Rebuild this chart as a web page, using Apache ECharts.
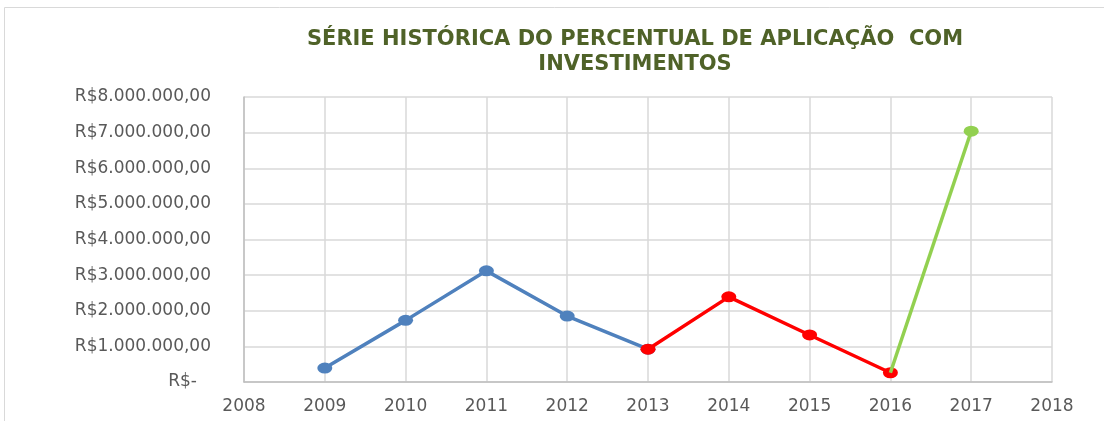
<!DOCTYPE html>
<html>
<head>
<meta charset="utf-8">
<script src="https://cdn.jsdelivr.net/npm/echarts@6/dist/echarts.min.js"></script>
<style>
  html, body { margin: 0; padding: 0; background: #fff; }
  #chart { width: 1104px; height: 421px; }
</style>
</head>
<body>
<div id="chart"></div>
<script>
// anos e valores
const years = [2009, 2010, 2011, 2012, 2013, 2014, 2015, 2016, 2017];
const values = [390000, 1730000, 3120000, 1850000, 920000, 2390000, 1320000, 260000, 7040000];
// trechos coloridos: [inicio, fim] por índice
const segments = [
    { name: 'azul', from: 0, to: 4, color: '#4F81BD' },
    { name: 'vermelho', from: 4, to: 7, color: '#FF0000' },
    { name: 'verde', from: 7, to: 8, color: '#92D050' }
];
const yTicks = [0, 1000000, 2000000, 3000000, 4000000, 5000000, 6000000, 7000000, 8000000];

function pairs(from, to) {
    const out = [];
    for (let i = from; i <= to; i++) out.push([years[i], values[i]]);
    return out;
}

function moeda(v) {
    if (v === 0) return '{z|R$-}';
    const s = String(Math.round(v)).replace(/\B(?=(\d{3})+(?!\d))/g, '.');
    return 'R$' + s + ',00';
}

const myChart = echarts.init(document.getElementById('chart'));

const option = {
    animation: false,
    textStyle: { fontFamily: 'DejaVu Sans' },
    title: {
        text: 'SÉRIE HISTÓRICA DO PERCENTUAL DE APLICAÇÃO  COM\nINVESTIMENTOS',
        left: 630,
        textAlign: 'center',
        top: 22,
        textStyle: {
            color: '#4F6228',
            fontSize: 21,
            fontWeight: 'bold',
            lineHeight: 25,
            fontFamily: 'DejaVu Sans'
        }
    },
    graphic: [{
        type: 'rect',
        shape: { x: 4.5, y: 7.5, width: 1120, height: 440 },
        style: { fill: 'none', stroke: '#D9D9D9', lineWidth: 1 },
        silent: true
    }],
    grid: {
        left: 244,
        right: 52,
        top: 97,
        bottom: 39
    },
    xAxis: {
        type: 'value',
        min: 2008,
        max: 2018,
        interval: 1,
        axisLine: { show: true, lineStyle: { color: '#BFBFBF', width: 1.5 } },
        axisTick: { show: false },
        axisLabel: {
            color: '#595959',
            fontSize: 17,
            margin: 16,
            formatter: v => String(v)
        },
        splitLine: { show: true, lineStyle: { color: '#D9D9D9', width: 1.5 } }
    },
    yAxis: {
        type: 'value',
        min: yTicks[0],
        max: yTicks[yTicks.length - 1],
        interval: 1000000,
        axisLine: { show: true, lineStyle: { color: '#BFBFBF', width: 1.5 } },
        axisTick: { show: false },
        axisLabel: {
            color: '#595959',
            fontSize: 17,
            margin: 33,
            formatter: moeda,
            rich: {
                z: { color: '#595959', fontSize: 17, padding: [0, 14, 0, 0] }
            }
        },
        splitLine: { show: true, lineStyle: { color: '#D9D9D9', width: 1.5 } }
    },
    series: segments.map((s, k) => ({
        name: s.name,
        type: 'line',
        data: pairs(s.from, s.to),
        z: 2 + k,
        symbol: 'circle',
        symbolSize: [15, 11],
        showSymbol: true,
        lineStyle: { color: s.color, width: 3.5 },
        itemStyle: { color: s.color },
        silent: true
    }))
};

// no ponto 2016 a linha verde não tem marcador próprio
option.series[2].data[0] = { value: option.series[2].data[0], symbol: 'none' };

myChart.setOption(option);
</script>
</body>
</html>
